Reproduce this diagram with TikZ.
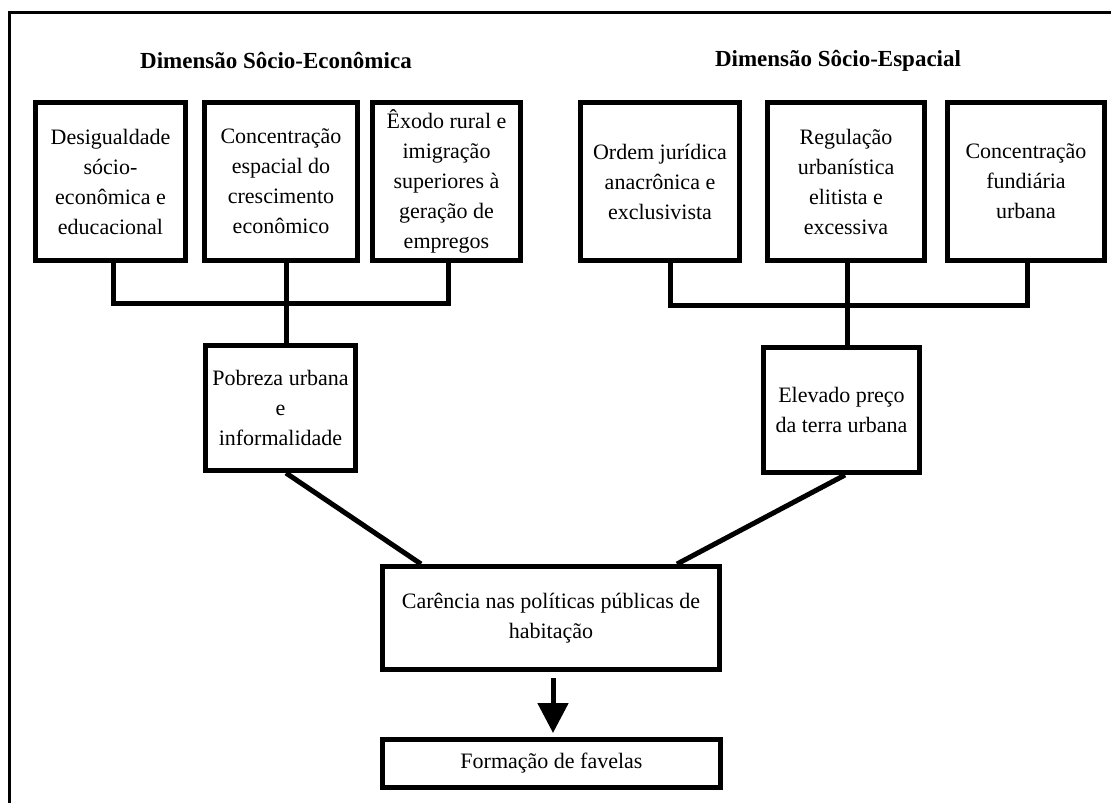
\documentclass[tikz,border=0pt]{standalone}
\usepackage{fontspec}
\setmainfont{Liberation Serif}
\usetikzlibrary{arrows.meta}
\begin{document}
\begin{tikzpicture}[x=1pt,y=-1pt,>={Triangle[width=30pt,length=30pt]},
        caixa/.style={draw,line width=5pt,inner sep=0pt,align=center,
            font=\fontsize{22}{30}\selectfont},
        alta/.style={caixa,minimum height=158pt},
        titulo/.style={font=\fontsize{23}{28}\selectfont\bfseries},
        liga/.style={line width=5pt}]
        \useasboundingbox (0,0) rectangle (1111,803);
        % moldura
        \draw[line width=3pt] (1111,12) -- (9,12) -- (9,803);
        % titoli
        \node[titulo] (tecon) at (276,61) {Dimensão Sôcio-Econômica};
        \node[titulo] (tesp) at (838,61) {Dimensão Sôcio-Espacial};
        % caixas superiores
        \node[alta,minimum width=150pt] (desig) at (110.5,181.5) {Desigualdade\\sócio-\\econômica e\\educacional};
        \node[alta,minimum width=153pt] (concent) at (281,181.5) {Concentração\\espacial do\\crescimento\\econômico};
        \node[alta,minimum width=148pt] (exodo) at (446.5,181.5) {Êxodo rural e\\imigração\\superiores à\\geração de\\empregos};
        \node[alta,minimum width=159pt] (ordem) at (660,181.5) {Ordem jurídica\\anacrônica e\\exclusivista};
        \node[alta,minimum width=157pt] (regul) at (846,181.5) {Regulação\\urbanística\\elitista e\\excessiva};
        \node[alta,minimum width=157pt] (concfund) at (1026,181.5) {Concentração\\fundiária\\urbana};
        % caixas intermedias
        \node[caixa,minimum width=150pt,minimum height=125pt] (pobreza) at (280.5,408) {Pobreza urbana\\e\\informalidade};
        \node[caixa,minimum width=156pt,minimum height=125pt] (elevado) at (841.5,410) {Elevado preço\\da terra urbana};
        \node[caixa,minimum width=337pt,minimum height=103pt] (carencia) at (551,618) {Carência nas políticas públicas de\\habitação};
        \node[caixa,minimum width=338pt,minimum height=48pt] (favelas) at (551.5,763.5) {Formação de favelas};
        % barramentos
        \coordinate (busL) at (286,303);
        \coordinate (busR) at (847,305);
        \draw[liga] ([xshift=2.5pt]desig.south) |- (busL) -| ([xshift=1.5pt]exodo.south);
        \draw[liga] (busL |- concent.south) -- (busL |- pobreza.north);
        \draw[liga] ([xshift=10pt]ordem.south) |- (busR) -| ([xshift=1pt]concfund.south);
        \draw[liga] (busR |- regul.south) -- (busR |- elevado.north);
        % convergencia
        \draw[liga] ([xshift=5.5pt]pobreza.south) -- ([xshift=41pt]carencia.north west);
        \draw[liga] ([xshift=3.5pt]elevado.south) -- ([xshift=-45pt]carencia.north east);
        \draw[liga,->,shorten <=6pt,shorten >=4pt] ([xshift=2pt]carencia.south) -- ([xshift=1.5pt]favelas.north);
\end{tikzpicture}
\end{document}
